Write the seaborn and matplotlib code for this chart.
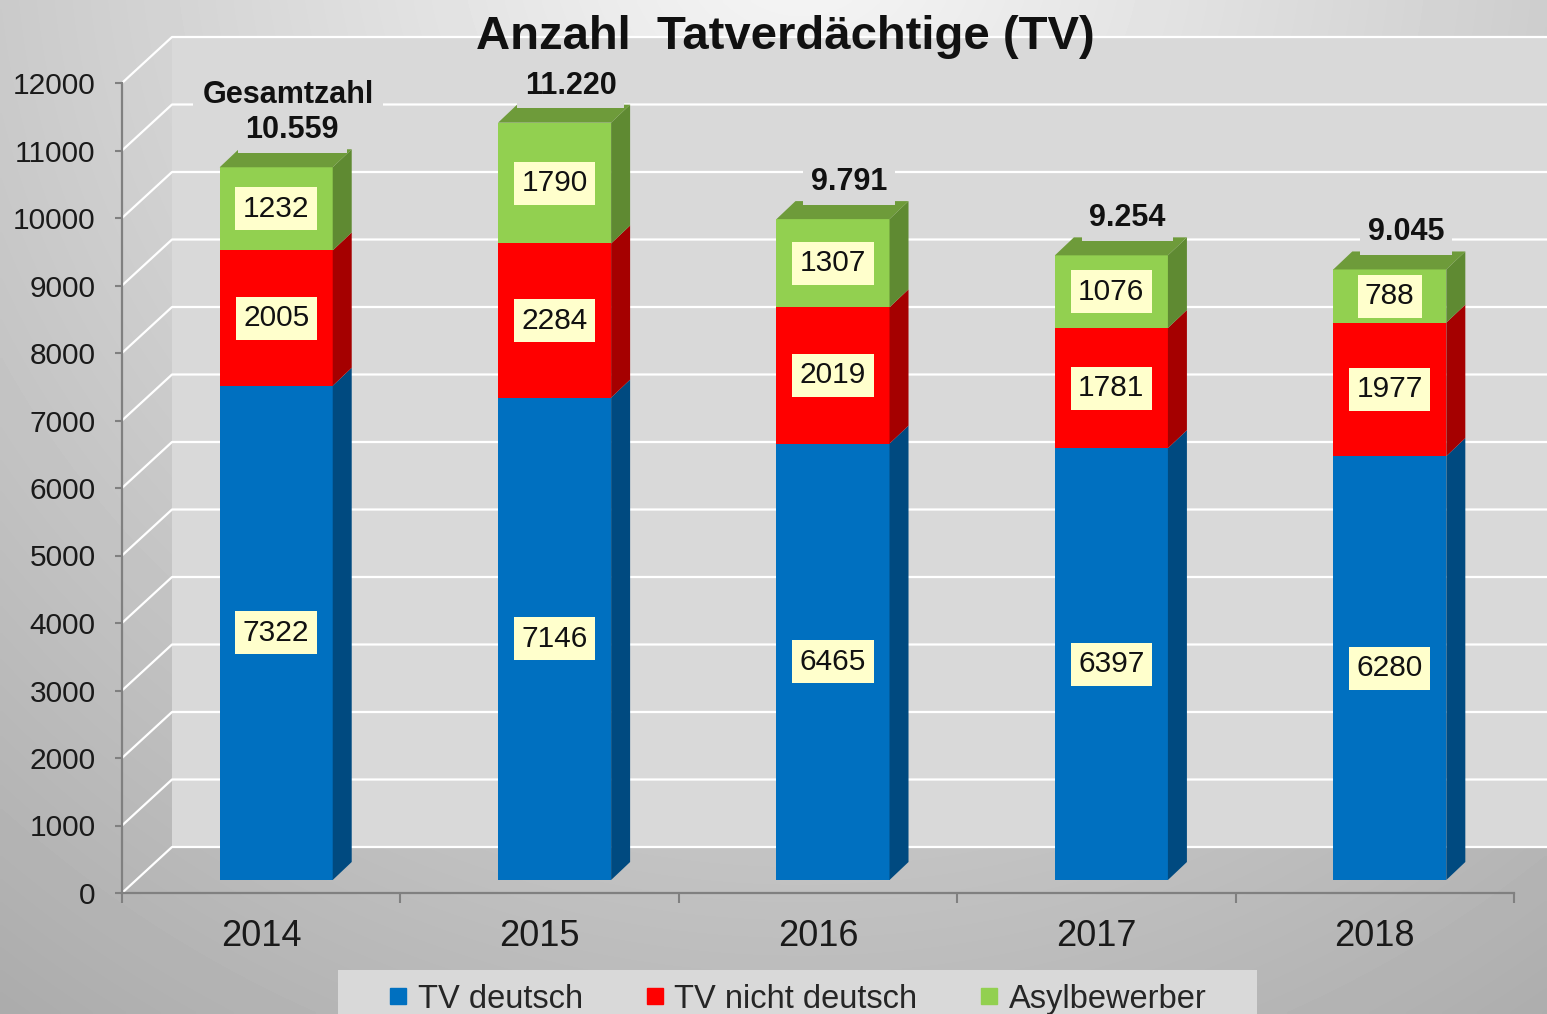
import numpy as np
import matplotlib
matplotlib.use("Agg")
import matplotlib.pyplot as plt
import matplotlib.transforms as mtransforms
from matplotlib.patches import Polygon, Rectangle
from matplotlib.lines import Line2D
import seaborn as sns

# ---- Daten ----
years = ["2014", "2015", "2016", "2017", "2018"]
tv_deutsch = [7322, 7146, 6465, 6397, 6280]
tv_nicht_deutsch = [2005, 2284, 2019, 1781, 1977]
asylbewerber = [1232, 1790, 1307, 1076, 788]
series_names = ["TV deutsch", "TV nicht deutsch", "Asylbewerber"]
y_ticks = list(range(0, 12001, 1000))

# ---- Farben ----
front_cols = ["#0070c0", "#ff0000", "#92d050"]
side_cols = ["#004a80", "#a50000", "#5f8a32"]
top_col = "#6e9b3a"
wall_col = "#d9d9d9"
box_col = "#ffffcc"

sns.set_style("white")
plt.rcParams["font.family"] = ["Liberation Sans", "DejaVu Sans"]

W, H = 1547, 1014
BAR_W = 0.406
F_OFF = (15, 13)      # Vorderseite der Säulen (px)
B_OFF = (34, 31)      # Rückseite der Säulen (px)
WALL_OFF = (50, 46)   # Rückwand (px)

fig = plt.figure(figsize=(W / 100, H / 100), dpi=100)

# Hintergrund-Verlauf
bg = fig.add_axes([0, 0, 1, 1], zorder=-10)
yy, xx = np.mgrid[0:H:4, 0:W:4]
dist = np.hypot(xx - 800, yy + 80) / 1000
shade = np.clip(0.97 - 0.22 * dist, 0, 1)
bg.imshow(shade, cmap="gray", vmin=0, vmax=1, extent=(0, W, H, 0),
          aspect="auto", interpolation="bilinear")
bg.set_xlim(0, W)
bg.set_ylim(H, 0)
bg.set_axis_off()

ax = fig.add_axes([122 / W, (H - 893) / H, (1514 - 122) / W, (893 - 83) / H])
ax.patch.set_visible(False)

lvl1 = np.array(tv_deutsch)
lvl2 = lvl1 + np.array(tv_nicht_deutsch)
lvl3 = lvl2 + np.array(asylbewerber)

# gestapelte Säulen (von oben nach unten gezeichnet)
for vals, col in zip([lvl3, lvl2, lvl1], front_cols[::-1]):
    sns.barplot(x=years, y=vals, color=col, saturation=1, width=BAR_W,
                errorbar=None, edgecolor="none", linewidth=0, zorder=3, ax=ax)

ax.set_xlim(-0.5, 4.5)
ax.set_ylim(0, 12000)
ax.set_xlabel("")
ax.set_ylabel("")

front_shift = mtransforms.ScaledTranslation(F_OFF[0] / 100, F_OFF[1] / 100, fig.dpi_scale_trans)
for p in ax.patches:
    p.set_transform(ax.transData + front_shift)
    p.set_clip_on(False)

ident = mtransforms.IdentityTransform()


def px(x, v, off=(0, 0)):
    X, Y = ax.transData.transform((x, v))
    return (X + off[0], Y + off[1])


# Rückwand
w0 = px(-0.5, 0, WALL_OFF)
w1 = px(-0.5, 12000, WALL_OFF)
ax.add_patch(Polygon([w0, (W, w0[1]), (W, w1[1]), w1], closed=True, fc=wall_col,
                     ec="none", transform=ident, clip_on=False, zorder=0.5))
for v in y_ticks:
    a = px(-0.5, v)
    b = px(-0.5, v, WALL_OFF)
    ax.add_line(Line2D([a[0], b[0], W], [a[1], b[1], b[1]], transform=ident,
                       color="white", lw=1.6, clip_on=False, zorder=1))

# Seiten- und Deckflächen
bottoms = [np.zeros(5), lvl1, lvl2]
tops = [lvl1, lvl2, lvl3]
for i in range(len(years)):
    xr = i + BAR_W / 2
    xl = i - BAR_W / 2
    for s in range(3):
        lo, hi = bottoms[s][i], tops[s][i]
        ax.add_patch(Polygon([px(xr, lo, F_OFF), px(xr, hi, F_OFF), px(xr, hi, B_OFF), px(xr, lo, B_OFF)],
                             closed=True, fc=side_cols[s], ec="none", transform=ident,
                             clip_on=False, zorder=3))
    t = lvl3[i]
    ax.add_patch(Polygon([px(xl, t, F_OFF), px(xr, t, F_OFF), px(xr, t, B_OFF), px(xl, t, B_OFF)],
                         closed=True, fc=top_col, ec="none", transform=ident,
                         clip_on=False, zorder=3))

# Werte in den Segmenten
seg_vals = [tv_deutsch, tv_nicht_deutsch, asylbewerber]
for i in range(len(years)):
    for s in range(3):
        mid = (bottoms[s][i] + tops[s][i]) / 2
        ax.annotate(f"{seg_vals[s][i]}", xy=(i, mid),
                    xytext=(F_OFF[0] * 0.72, F_OFF[1] * 0.72), textcoords="offset points",
                    ha="center", va="center", fontsize=21.5, color="#111111",
                    bbox=dict(boxstyle="square,pad=0.25", fc=box_col, ec="none"),
                    zorder=6, annotation_clip=False)

# Gesamtzahlen
ax.annotate("Gesamtzahl", xy=(0, lvl3[0]), xytext=(27 * 0.72, 85 * 0.72),
            textcoords="offset points", ha="center", va="center",
            fontsize=22, fontweight="bold", color="#111111",
            bbox=dict(boxstyle="square,pad=0.3", fc=wall_col, ec="none"),
            zorder=5, annotation_clip=False)
for i, t in enumerate(lvl3):
    ax.annotate(f"{t:,}".replace(",", "."), xy=(i, t), xytext=(31 * 0.72, 50 * 0.72),
                textcoords="offset points", ha="center", va="center",
                fontsize=22, fontweight="bold", color="#111111",
                bbox=dict(boxstyle="square,pad=0.25", fc=wall_col, ec="none"),
                zorder=6, annotation_clip=False)

# Achsen
for s in ["top", "right"]:
    ax.spines[s].set_visible(False)
for s in ["left", "bottom"]:
    ax.spines[s].set_color("#808080")
    ax.spines[s].set_linewidth(1.6)
ax.spines["left"].set_bounds(0, 12000)

ax.set_yticks(y_ticks)
ax.set_yticklabels([str(v) for v in y_ticks])
ax.tick_params(axis="y", left=True, length=5, width=1.5, color="#808080",
               pad=14, labelsize=21.5, labelcolor="#1a1a1a", direction="out")
ax.set_xticks(range(len(years)))
ax.set_xticklabels(years)
ax.set_xticks(np.arange(-0.5, len(years), 1), minor=True)
ax.tick_params(axis="x", which="major", bottom=True, length=0, pad=19,
               labelsize=26, labelcolor="#1a1a1a")
ax.tick_params(axis="x", which="minor", bottom=True, length=7, width=1.5,
               color="#808080", direction="out")

# Titel
fig.text(785.5 / W, 1 - 37 / H, "Anzahl  Tatverdächtige (TV)", ha="center", va="center",
         fontsize=34, fontweight="bold", color="#111111")

# Legende
fig.patches.append(Rectangle((338 / W, 0), (1257 - 338) / W, (H - 970) / H,
                             transform=fig.transFigure, fc=wall_col, ec="none", zorder=1))
handles = [Line2D([], [], marker="s", linestyle="", color=c, markersize=11) for c in front_cols]
leg = fig.legend(handles, series_names, loc="upper center", bbox_to_anchor=(797.5 / W, 1 - 964 / H),
                 ncol=3, frameon=False, fontsize=23.5, handlelength=0.6, handletextpad=0.3,
                 columnspacing=1.9, borderpad=0.1)
leg.set_zorder(2)

fig.savefig("out.png", dpi=100)
